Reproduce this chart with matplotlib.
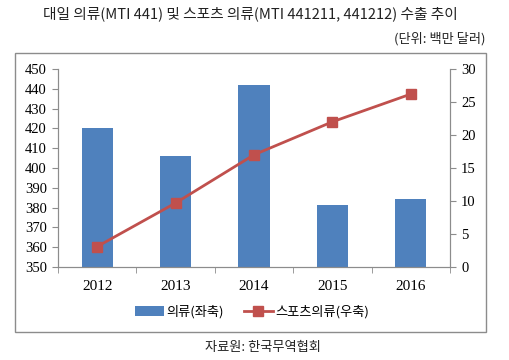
import matplotlib
matplotlib.use("Agg")
import matplotlib.pyplot as plt
from matplotlib.patches import Rectangle
import numpy as np

years = ["2012", "2013", "2014", "2015", "2016"]
clothing = [420, 406, 442, 381.5, 384.5]      # left axis
sports = [3.1, 9.7, 17.0, 22.0, 26.2]         # right axis

kr = ["Noto Sans CJK KR", "DejaVu Sans"]
serif = "Liberation Serif"
gray = "#8c8c8c"

fig = plt.figure(figsize=(5.09, 3.6), dpi=100)
ax = fig.add_axes([58 / 509, 1 - 267 / 360, 392 / 509, 198 / 360])
ax2 = ax.twinx()

x = np.arange(len(years))
ax.bar(x, clothing, width=0.4, color="#4F81BD", label="의류(좌축)", zorder=2)
ax2.plot(x, sports, color="#C0504D", lw=2, marker="s", ms=7,
         mec="#C0504D", mfc="#C0504D", label="스포츠의류(우축)", zorder=3)

ax.set_xlim(-0.5, 4.5)
ax.set_ylim(350, 450)
ax.set_yticks(range(350, 451, 10))
ax2.set_ylim(0, 30)
ax2.set_yticks(range(0, 31, 5))

ax.set_xticks(x)
ax.set_xticklabels(years, fontfamily=serif, fontsize=11)
ax.set_xticks(np.arange(-0.5, 5, 1), minor=True)
ax.tick_params(axis="x", which="major", length=0, pad=9)
ax.tick_params(axis="x", which="minor", length=4, color=gray, direction="out")
ax.tick_params(axis="y", length=4, color=gray, labelsize=10.5, pad=4)
ax2.tick_params(axis="y", length=4, color=gray, labelsize=10.5, pad=4)
for lab in ax.get_yticklabels() + ax2.get_yticklabels():
    lab.set_fontfamily(serif)

for a in (ax, ax2):
    a.spines["top"].set_visible(False)
    for s in ("left", "right", "bottom"):
        a.spines[s].set_color(gray)
        a.spines[s].set_linewidth(0.8)
ax2.set_zorder(ax.get_zorder() + 1)
ax2.patch.set_visible(False)

h1, l1 = ax.get_legend_handles_labels()
h2, l2 = ax2.get_legend_handles_labels()
fig.legend(h1 + h2, l1 + l2, loc="center", bbox_to_anchor=(252 / 509, 1 - 312 / 360),
           ncol=2, frameon=False, prop={"family": kr, "size": 9.5},
           handlelength=2.2, handletextpad=0.2, columnspacing=1.5)

fig.patches.append(Rectangle((15 / 509, 1 - 332 / 360), 471 / 509, 279 / 360,
                             transform=fig.transFigure, fill=False,
                             edgecolor=gray, lw=1))

fig.text(250 / 509, 1 - 14 / 360, "대일 의류(MTI 441) 및 스포츠 의류(MTI 441211, 441212) 수출 추이",
         ha="center", va="center", family=kr, fontsize=10.6, color="#222222")
fig.text(485 / 509, 1 - 39 / 360, "(단위: 백만 달러)", ha="right", va="center",
         family=kr, fontsize=9.5, color="#222222")
fig.text(263 / 509, 1 - 347 / 360, "자료원: 한국무역협회", ha="center", va="center",
         family=kr, fontsize=9.5, color="#222222")

fig.savefig("out.png", dpi=100)
